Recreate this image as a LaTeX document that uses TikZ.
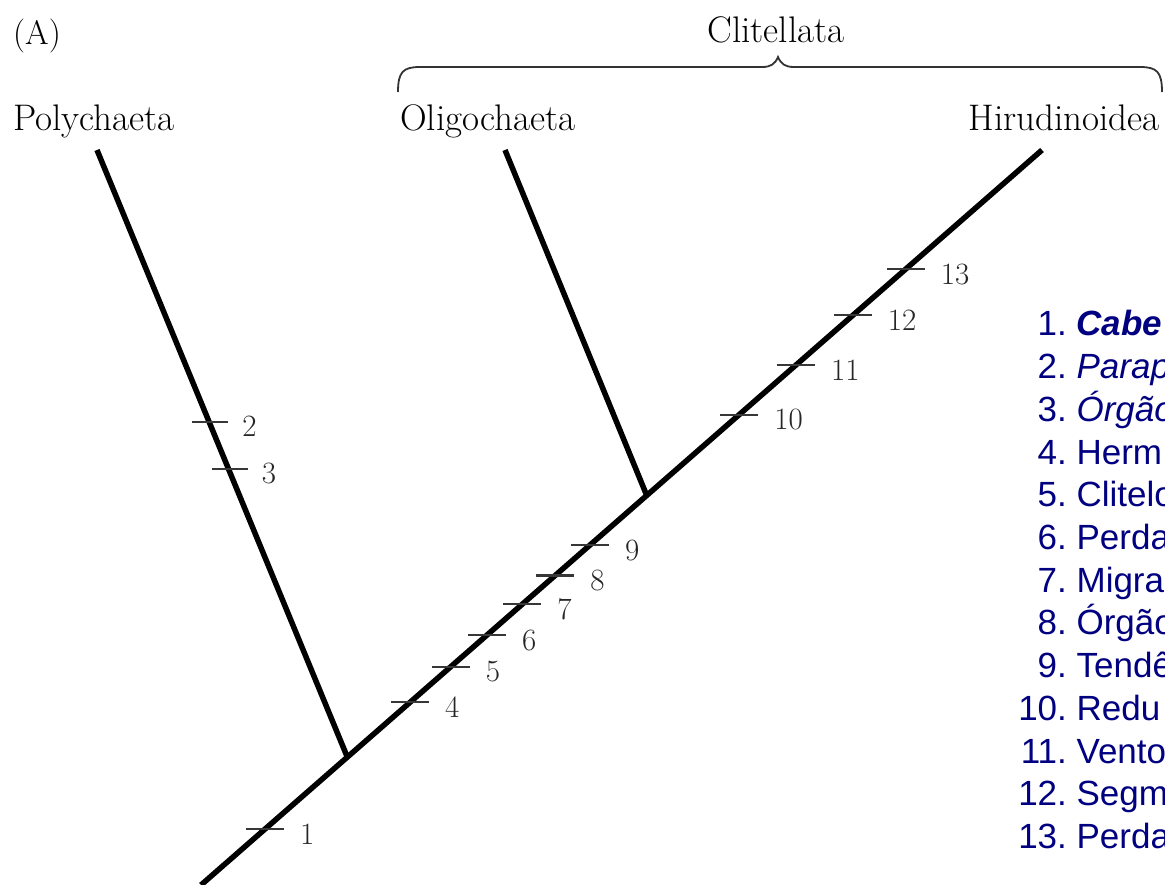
\documentclass[tikz,border=0pt]{standalone}
\usepackage{fontspec}
\newfontfamily\listfont{Liberation Sans}
\usetikzlibrary{calc}
\definecolor{navy}{RGB}{0,0,128}
\definecolor{tickgray}{RGB}{55,55,55}
\begin{document}
\begin{tikzpicture}[x=1pt,y=-1pt,
  branch/.style={line width=5.5pt, black},
  tickmark/.style={line width=2.2pt, tickgray},
  ticklabel/.style={anchor=west, inner sep=0pt, text=black!85, font=\fontsize{31}{31}\selectfont},
  taxon/.style={inner sep=0pt, font=\fontsize{37}{37}\selectfont},
  bracket/.style={line width=1.8pt, black!80},
  item/.style={anchor=base west, inner sep=0pt, text=navy, font=\listfont\fontsize{35}{35}\selectfont}]

\useasboundingbox (0,0) rectangle (1165,885);
\clip (0,0) rectangle (1165,885);

% tree coordinates
\coordinate (root) at (201,885);
\coordinate (hiru) at (1042,150);
\coordinate (poly) at (97,150);
\coordinate (oligo) at (505,150);
\coordinate (jp) at ($(root)!0.174!(hiru)$);
\coordinate (jo) at ($(root)!0.53!(hiru)$);

% branches
\draw[branch] (root) -- (hiru);
\draw[branch] (jp) -- (poly);
\draw[branch] (jo) -- (oligo);

% ticks on main line
\foreach \t/\n in {0.076/1, 0.2485/4, 0.297/5, 0.340/6, 0.382/7, 0.421/8, 0.4625/9, 0.640/10, 0.7075/11, 0.775/12, 0.838/13}{
  \coordinate (k\n) at ($(root)!\t!(hiru)$);
  \draw[tickmark] ($(k\n)+(-19,0)$) -- ($(k\n)+(19,0)$);
  \node[ticklabel] (n\n) at ($(k\n)+(35,5)$) {\n};
}
% ticks on Polychaeta branch
\foreach \t/\n in {0.552/2, 0.474/3}{
  \coordinate (k\n) at ($(jp)!\t!(poly)$);
  \draw[tickmark] ($(k\n)+(-17,0)$) -- ($(k\n)+(19,0)$);
  \node[ticklabel] (n\n) at ($(k\n)+(33,4)$) {\n};
}

% labels
\node[taxon, anchor=base west, font=\fontsize{34}{34}\selectfont] (lab) at (13,45) {(A)};
\node[taxon, anchor=base west] (tpoly) at (13,131) {Polychaeta};
\node[taxon, anchor=base west] (toligo) at (400,131) {Oligochaeta};
\node[taxon, anchor=base east] (thiru) at (1160,131) {Hirudinoidea};
\node[taxon, anchor=base] (tclit) at (776,43) {Clitellata};

% brace
\coordinate (bl) at (398,92);
\coordinate (br) at (1162,92);
\coordinate (btip) at (778,57);
\draw[bracket] (bl) .. controls (398,72) and (403,67) .. (420,67) -- (762,67)
  .. controls (771,67) and (775,64) .. (btip)
  .. controls (781,64) and (785,67) .. (794,67) -- (1140,67)
  .. controls (1157,67) and (1162,72) .. (br);

% character list
\node[item] (i1) at (1018,336.0) {\makebox[48.7pt][r]{1.}\hspace{9.7pt}\textbf{\textit{Cabe}}};
\node[item] (i2) at (1018,378.7) {\makebox[48.7pt][r]{2.}\hspace{9.7pt}\textit{Parap}};
\node[item] (i3) at (1018,421.4) {\makebox[48.7pt][r]{3.}\hspace{9.7pt}\textit{Órgão}};
\node[item] (i4) at (1018,464.1) {\makebox[48.7pt][r]{4.}\hspace{9.7pt}Herm};
\node[item] (i5) at (1018,506.8) {\makebox[48.7pt][r]{5.}\hspace{9.7pt}Clitelo};
\node[item] (i6) at (1018,549.5) {\makebox[48.7pt][r]{6.}\hspace{9.7pt}Perda};
\node[item] (i7) at (1018,592.2) {\makebox[48.7pt][r]{7.}\hspace{9.7pt}Migra};
\node[item] (i8) at (1018,634.9) {\makebox[48.7pt][r]{8.}\hspace{9.7pt}Órgão};
\node[item] (i9) at (1018,677.6) {\makebox[48.7pt][r]{9.}\hspace{9.7pt}Tendê};
\node[item] (i10) at (1018,720.3) {\makebox[48.7pt][r]{10.}\hspace{9.7pt}Redu};
\node[item] (i11) at (1018,763.0) {\makebox[48.7pt][r]{11.}\hspace{9.7pt}Vento};
\node[item] (i12) at (1018,805.7) {\makebox[48.7pt][r]{12.}\hspace{9.7pt}Segm};
\node[item] (i13) at (1018,848.4) {\makebox[48.7pt][r]{13.}\hspace{9.7pt}Perda};
\end{tikzpicture}
\end{document}
